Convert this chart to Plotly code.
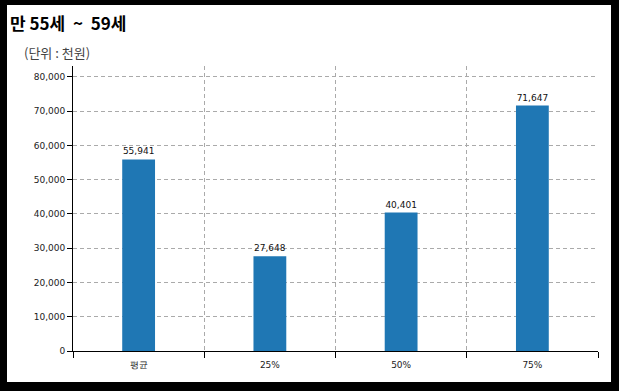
import plotly.graph_objects as go

categories = ["평균", "25%", "50%", "75%"]
values = [55941, 27648, 40401, 71647]
y_ticks = [0, 10000, 20000, 30000, 40000, 50000, 60000, 70000, 80000]
y_tick_labels = ["0", "10,000", "20,000", "30,000", "40,000", "50,000", "60,000", "70,000", "80,000"]
value_labels = ["55,941", "27,648", "40,401", "71,647"]

W, H = 619, 391
L, R, T, B = 73, 21, 66, 40
PW, PH = W - L - R, H - T - B

def px(x):
    return (x - L) / PW

def py(y):
    return (H - B - y) / PH

fig = go.Figure()
fig.add_trace(go.Bar(
    x=categories, y=values, width=0.25,
    marker=dict(color="#1f77b4", line=dict(width=0)),
    text=value_labels, textposition="outside", cliponaxis=False,
    textfont=dict(family="DejaVu Sans", size=9, color="#111"),
    hoverinfo="skip",
))

shapes = []
for (x0, y0, x1, y1) in [(0, 0, W, 5), (0, 382, W, H), (0, 0, 7, H), (611, 0, W, H)]:
    shapes.append(dict(type="rect", xref="paper", yref="paper",
                       x0=px(x0), x1=px(x1), y0=py(y1), y1=py(y0),
                       fillcolor="black", line=dict(width=0), layer="above"))

fig.update_layout(
    width=W, height=H,
    margin=dict(l=L, r=R, t=T, b=B, pad=0),
    paper_bgcolor="white", plot_bgcolor="white",
    showlegend=False,
    shapes=shapes,
    annotations=[
        dict(text="<b>만 55세\u00a0 ~\u00a0 59세</b>", xref="paper", yref="paper",
             x=px(8), y=py(23), xanchor="left", yanchor="middle", showarrow=False,
             font=dict(family="Noto Sans CJK KR", size=17, color="#000")),
        dict(text="(단위 : 천원)", xref="paper", yref="paper",
             x=px(22), y=py(52), xanchor="left", yanchor="middle", showarrow=False,
             font=dict(family="Noto Sans CJK KR", size=13, color="#444")),
    ],
    xaxis=dict(
        type="category", tickson="boundaries",
        showline=True, linecolor="black", linewidth=1,
        ticks="outside", ticklen=6, tickcolor="black",
        ticklabelstandoff=5,
        showgrid=True, gridcolor="#aaaaaa", griddash="4px,3px", gridwidth=1,
        tickfont=dict(family="DejaVu Sans", size=9, color="#222"),
        fixedrange=True,
    ),
    yaxis=dict(
        range=[0, 83200],
        tickvals=y_ticks, ticktext=y_tick_labels,
        showline=True, linecolor="black", linewidth=1,
        ticks="outside", ticklen=5, tickcolor="black",
        showgrid=True, gridcolor="#aaaaaa", griddash="4px,3px", gridwidth=1,
        zeroline=False,
        tickfont=dict(family="DejaVu Sans", size=9, color="#222"),
        fixedrange=True,
    ),
)

fig.write_html("out.html", config={"displayModeBar": False},
               post_script="document.body.style.margin='0';document.body.style.overflow='hidden';")
